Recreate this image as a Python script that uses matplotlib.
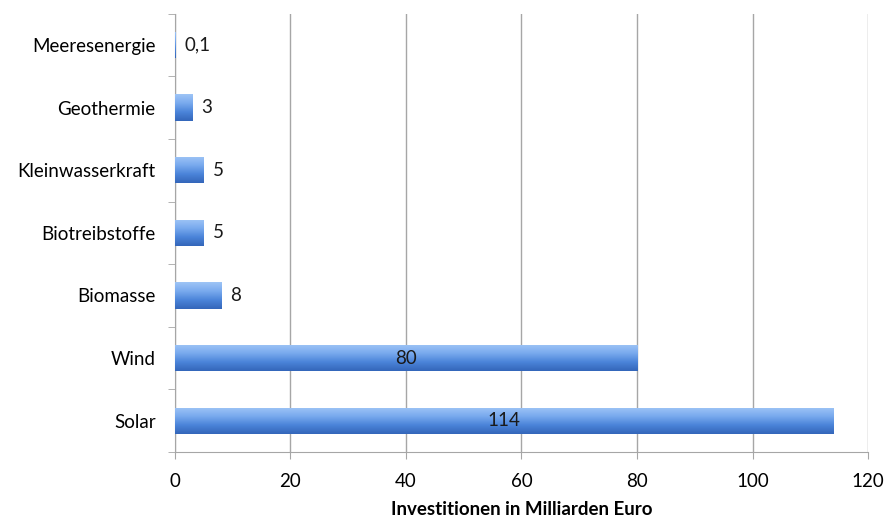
import numpy as np
import matplotlib.pyplot as plt
from matplotlib.colors import LinearSegmentedColormap
from matplotlib.patches import Rectangle

categories = ['Solar', 'Wind', 'Biomasse', 'Biotreibstoffe', 'Kleinwasserkraft',
              'Geothermie', 'Meeresenergie']
values = [114, 80, 8, 5, 5, 3, 0.1]
value_labels = ['114', '80', '8', '5', '5', '3', '0,1']
xticks = [0, 20, 40, 60, 80, 100, 120]

plt.rcParams['font.family'] = ['Lato', 'DejaVu Sans']
grid_col = '#a6a6a6'
fs = 13.5

fig = plt.figure(figsize=(8.85, 5.23), dpi=100)
ax = fig.add_axes([0.1977, 0.1358, 0.7831, 0.838])

cmap = LinearSegmentedColormap.from_list('bar', ['#3466ba', '#4b84d9', '#79aaee', '#9ec4f6'])
grad = np.linspace(0, 1, 64).reshape(-1, 1)
h = 0.42
ypos = np.arange(len(categories))
for y, v, lab in zip(ypos, values, value_labels):
    rect = Rectangle((0, y - h / 2), v, h, facecolor='none', edgecolor='none')
    ax.add_patch(rect)
    im = ax.imshow(grad, cmap=cmap, aspect='auto', origin='lower',
                   extent=(0, v, y - h / 2, y + h / 2), zorder=3)
    im.set_clip_path(rect)
    if v > 50:
        ax.text(v / 2, y, lab, ha='center', va='center', fontsize=fs, color='#1a1a1a', zorder=4)
    else:
        ax.text(v + 1.5, y, lab, ha='left', va='center', fontsize=fs, color='#1a1a1a', zorder=4)

ax.set_xlim(0, 120)
ax.set_ylim(-0.5, len(categories) - 0.5)
ax.set_xticks(xticks)
ax.set_xticklabels([str(t) for t in xticks], fontsize=fs)
ax.set_yticks(ypos)
ax.set_yticklabels(categories, fontsize=fs)
ax.set_yticks(np.arange(-0.5, len(categories), 1), minor=True)
ax.tick_params(axis='y', which='major', length=0, pad=14)
ax.tick_params(axis='y', which='minor', length=5, color=grid_col, direction='out')
ax.tick_params(axis='x', length=5, color=grid_col, direction='out', pad=10)
ax.xaxis.grid(True, color=grid_col, linewidth=1)
ax.set_axisbelow(True)
for s in ['top', 'right']:
    ax.spines[s].set_visible(False)
for s in ['left', 'bottom']:
    ax.spines[s].set_color(grid_col)
ax.set_xlabel('Investitionen in Milliarden Euro', fontsize=fs, fontweight='bold', labelpad=8)

fig.savefig('out.png', dpi=100)
